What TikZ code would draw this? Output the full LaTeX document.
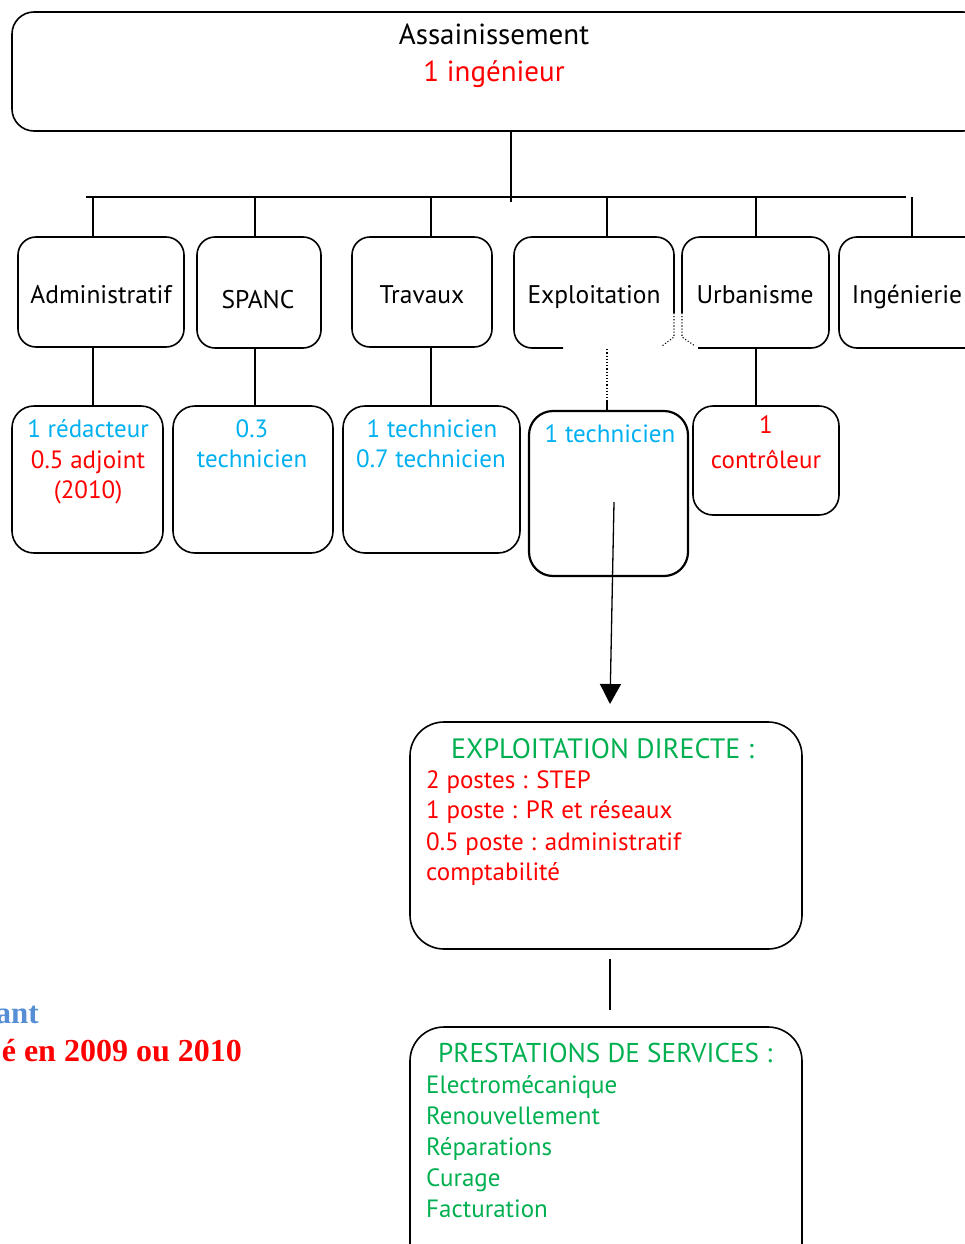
\documentclass[tikz,border=0pt]{standalone}
\usepackage{fontspec}
\setmainfont{PT Sans}
\newfontfamily\serifbold{Liberation Serif}
\usetikzlibrary{arrows.meta}
\definecolor{cblue}{HTML}{00B0F0}
\definecolor{cred}{HTML}{FF0000}
\definecolor{cgreen}{HTML}{00B050}
\definecolor{clblue}{HTML}{558ED5}
\tikzset{
  boxline/.style={line width=1.6pt, line join=round},
  rbox/.style={draw, boxline, rounded corners=18pt, inner sep=0pt},
  bigbox/.style={draw, boxline, rounded corners=34pt, inner sep=0pt},
  ghost/.style={inner sep=0pt},
  conn/.style={line width=1.3pt},
  dotconn/.style={line width=1.2pt, dotted},
  ctxt/.style={inner sep=0pt, anchor=base},
  ltxt/.style={inner sep=0pt, anchor=base west},
  fa/.style={font=\fontsize{29}{34}\selectfont},
  fb/.style={font=\fontsize{25.5}{31}\selectfont},
  fc/.style={font=\fontsize{25}{30}\selectfont},
  fd/.style={font=\fontsize{25}{30}\selectfont},
  fcaps/.style={font=\fontsize{28}{32}\selectfont},
}
\begin{document}
\begin{tikzpicture}[x=1pt,y=-1pt]
\useasboundingbox (0,0) rectangle (965,1244);
% top box
\node[rbox, rounded corners=22pt, minimum width=973pt, minimum height=119pt] (top) at (498.5,71.5) {};
\node[ctxt, fa] (t1) at (494,45) {Assainissement};
\node[ctxt, fa, text=cred] (t2) at (494,82) {1 ingénieur};
% second row boxes
\node[rbox, minimum width=166pt, minimum height=110pt] (admin) at (101,292) {};
\node[rbox, minimum width=124pt, minimum height=111pt] (spanc) at (259,292.5) {};
\node[rbox, minimum width=140pt, minimum height=110pt] (trav) at (422,292) {};
\node[ghost, minimum width=160pt, minimum height=111pt] (expl) at (594,292.5) {};
\node[ghost, minimum width=147pt, minimum height=111pt] (urb) at (755.5,292.5) {};
\node[rbox, minimum width=151pt, minimum height=111pt] (ing) at (914.5,292.5) {};
\draw[boxline, rounded corners=18pt] (563,348) -- (514,348) -- (514,237) -- (674,237) -- (674,313);
\draw[boxline, rounded corners=18pt] (698,348) -- (829,348) -- (829,237) -- (682,237) -- (682,313);
\draw[line width=1.1pt, dotted] (674,313) -- (674,337) -- (662,346);
\draw[line width=1.1pt, dotted] (682,313) -- (682,337) -- (695,346);
\node[ctxt, fb] at (101,303) {Administratif};
\node[ctxt, fb] at (258,308) {SPANC};
\node[ctxt, fb] at (422,303) {Travaux};
\node[ctxt, fb] at (594,303) {Exploitation};
\node[ctxt, fb] at (755,303) {Urbanisme};
\node[ctxt, fb] at (907,303) {Ingénierie};
% third row boxes
\node[rbox, rounded corners=22pt, minimum width=151pt, minimum height=147pt] (adminsub) at (87.5,479.5) {};
\node[rbox, rounded corners=22pt, minimum width=160pt, minimum height=147pt] (spancsub) at (253,479.5) {};
\node[rbox, rounded corners=22pt, minimum width=177pt, minimum height=147pt] (travsub) at (431.5,479.5) {};
\node[rbox, rounded corners=24pt, line width=2.2pt, minimum width=159pt, minimum height=165pt] (explsub) at (608.5,493.5) {};
\node[rbox, rounded corners=20pt, minimum width=146pt, minimum height=109pt] (urbsub) at (766,460.5) {};
\node[ctxt, fc, text=cblue] at (88,437) {1 rédacteur};
\node[ctxt, fc, text=cred] at (88,468) {0.5 adjoint};
\node[ctxt, fc, text=cred] at (88,498) {(2010)};
\node[ctxt, fc, text=cblue] at (252,437) {0.3};
\node[ctxt, fc, text=cblue] at (252,467) {technicien};
\node[ctxt, fc, text=cblue] at (432,437) {1 technicien};
\node[ctxt, fc, text=cblue] at (431,467) {0.7 technicien};
\node[ctxt, fc, text=cblue] at (610,442) {1 technicien};
\node[ctxt, fc, text=cred] at (766,433) {1};
\node[ctxt, fc, text=cred] at (766,468) {contrôleur};
% tree connectors
\coordinate (bar) at (511,197);
\coordinate (barL) at (86,197);
\coordinate (barR) at (906,197);
\draw[conn] (top.south -| bar) -- ([yshift=-5pt]bar);
\draw[line width=1.6pt] (barL) -- (barR);
\coordinate (d1) at (93,197);
\coordinate (d2) at (255,197);
\coordinate (d3) at (431,197);
\coordinate (d4) at (607,197);
\coordinate (d5) at (756,197);
\coordinate (d6) at (912,197);
\draw[conn] (d1) -- (d1 |- admin.north);
\draw[conn] (d2) -- (d2 |- spanc.north);
\draw[conn] (d3) -- (d3 |- trav.north);
\draw[conn] (d4) -- (d4 |- expl.north);
\draw[conn] (d5) -- (d5 |- urb.north);
\draw[conn] (d6) -- (d6 |- ing.north);
\draw[conn] (d1 |- admin.south) -- (d1 |- adminsub.north);
\draw[conn] (d2 |- spanc.south) -- (d2 |- spancsub.north);
\draw[conn] (d3 |- trav.south) -- (d3 |- travsub.north);
\draw[conn] (d5 |- urb.south) -- (d5 |- urbsub.north);
\draw[dotconn] ([yshift=-1pt]d4 |- expl.south) -- ([yshift=8pt]d4 |- explsub.north);
\draw[conn] ([yshift=8pt]d4 |- explsub.north) -- (d4 |- explsub.north);
% lower part
\node[bigbox, minimum width=392pt, minimum height=227pt] (ed) at (606,835.5) {};
\node[bigbox, minimum width=392pt, minimum height=253pt] (ps) at (606,1153.5) {};
\coordinate (a1) at (614,502);
\coordinate (a2) at (610,704);
\draw[conn, -{Triangle[width=21pt,length=20pt]}] (a1) -- (a2);
\coordinate (l1) at (610,959);
\coordinate (l2) at (610,1010);
\draw[conn] (l1) -- (l2);
\node[ltxt, fcaps, text=cgreen] at (451,758) {EXPLOITATION DIRECTE :};
\node[ltxt, fd, text=cred] at (426,788) {2 postes : STEP};
\node[ltxt, fd, text=cred] at (426,818) {1 poste : PR et réseaux};
\node[ltxt, fd, text=cred] at (426,850) {0.5 poste : administratif};
\node[ltxt, fd, text=cred] at (426,880) {comptabilité};
\node[ltxt, font=\fontsize{27.2}{32}\selectfont, text=cgreen] at (438,1062) {PRESTATIONS DE SERVICES :};
\node[ltxt, fd, text=cgreen] at (426,1093) {Electromécanique};
\node[ltxt, fd, text=cgreen] at (426,1124) {Renouvellement};
\node[ltxt, fd, text=cgreen] at (426,1155) {Réparations};
\node[ltxt, fd, text=cgreen] at (426,1186) {Curage};
\node[ltxt, fd, text=cgreen] at (426,1217) {Facturation};
% left notes
\node[inner sep=0pt, anchor=base east, text=clblue, font=\serifbold\bfseries\fontsize{31}{36}\selectfont] at (39,1023) {ant};
\node[inner sep=0pt, anchor=base east, text=cred, font=\serifbold\bfseries\fontsize{32}{36}\selectfont] at (242,1061) {é en 2009 ou 2010};
\end{tikzpicture}
\end{document}
